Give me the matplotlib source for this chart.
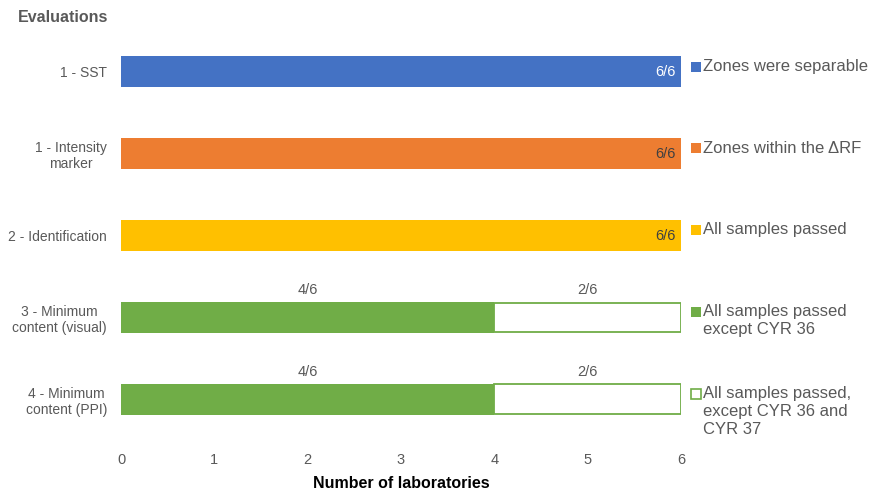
import numpy as np
import matplotlib.pyplot as plt

plt.rcParams['font.family'] = ['Liberation Sans', 'DejaVu Sans']

categories = ['1 - SST', '1 - Intensity\nmarker', '2 - Identification',
              '3 - Minimum\ncontent (visual)', '4 - Minimum\ncontent (PPI)']
passed = [6, 6, 6, 4, 4]
remaining = [0, 0, 0, 2, 2]
colors = ['#4472C4', '#ED7D31', '#FFC000', '#70AD47', '#70AD47']
outcomes = ['Zones were separable', 'Zones within the \u0394RF', 'All samples passed',
            'All samples passed\nexcept CYR 36',
            'All samples passed,\nexcept CYR 36 and\nCYR 37']
total = 6

grey = '#595959'
fig = plt.figure(figsize=(8.74, 4.95), dpi=100)
ax = fig.add_axes([121 / 874, 1 - 440 / 495, 560 / 874, 409 / 495])

y = np.arange(len(categories))
h = 0.38
ax.barh(y, passed, height=h, color=colors)
rest = [i for i in y if remaining[i] > 0]
ax.barh([y[i] for i in rest], [remaining[i] for i in rest], left=[passed[i] for i in rest],
        height=h - 0.02, color='white', edgecolor='#70AD47', linewidth=1.3)

for i in y:
    if remaining[i] == 0:
        c = 'white' if i == 0 else '#404040'
        ax.text(passed[i] - 0.06, i, f'{passed[i]}/{total}', ha='right', va='center',
                fontsize=10.5, color=c)
    else:
        ax.text(passed[i] / 2, i - h / 2 - 0.14, f'{passed[i]}/{total}', ha='center',
                va='center', fontsize=10.5, color=grey)
        ax.text(passed[i] + remaining[i] / 2, i - h / 2 - 0.14, f'{remaining[i]}/{total}',
                ha='center', va='center', fontsize=10.5, color=grey)

    # outcome key to the right of each bar
    hollow = i == len(categories) - 1
    ax.plot(6.16, i - h / 2 + 0.125, marker='s', markersize=6.5, clip_on=False,
            markerfacecolor='white' if hollow else colors[i],
            markeredgecolor=colors[i], markeredgewidth=1.2 if hollow else 0)
    ax.text(6.235, i - h / 2 + 0.03, outcomes[i], ha='left', va='top', fontsize=12,
            color=grey, linespacing=1.25, clip_on=False)

ax.set_xlim(0, 6)
ax.set_ylim(4.5, -0.5)
ax.set_yticks(y)
ax.set_yticklabels(categories, fontsize=10, color=grey, multialignment='center')
ax.set_xticks(range(0, 7))
ax.tick_params(axis='x', length=0, pad=9, labelsize=10.5, labelcolor=grey)
ax.tick_params(axis='y', length=0, pad=10)
for s in ax.spines.values():
    s.set_visible(False)

ax.set_xlabel('Number of laboratories', fontsize=11.5, fontweight='bold', labelpad=7)
fig.text(18 / 874, 1 - 18 / 495, 'Evaluations', fontsize=11.5, fontweight='bold',
         color=grey, ha='left', va='center')

fig.savefig('out.png', dpi=100)
